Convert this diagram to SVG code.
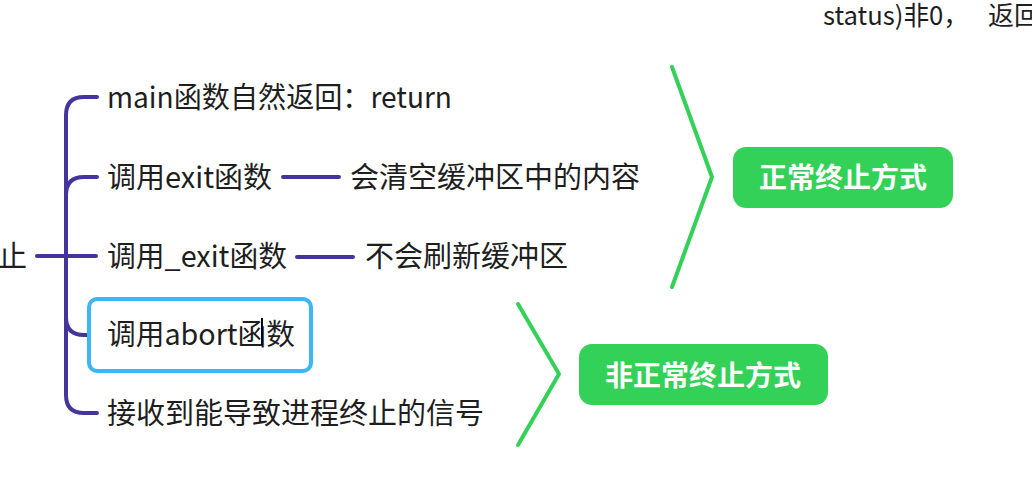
<svg xmlns="http://www.w3.org/2000/svg" width="1032" height="498" viewBox="0 0 1032 498">
<style>
.t{font-family:"Noto Sans CJK SC","Noto Sans",sans-serif;font-size:29px;fill:#1e1e1e}
.top{font-family:"Noto Sans CJK SC","Noto Sans",sans-serif;font-size:26px;fill:#1e1e1e}
.lbl{font-family:"Noto Sans CJK SC",sans-serif;font-size:28px;font-weight:bold;fill:#ffffff}
.c{fill:none;stroke:#45359b;stroke-width:4;stroke-linecap:round}
.g{fill:none;stroke:#33d158;stroke-width:4;stroke-linecap:round;stroke-linejoin:round}
.box{fill:#33d158}
</style>
<rect width="1032" height="498" fill="#ffffff"/>
<text class="top" y="25"><tspan x="823" textLength="146" lengthAdjust="spacingAndGlyphs">status)非0，</tspan><tspan x="988">返回</tspan></text>
<g id="connectors">
<path class="c" d="M37,256 H96"/>
<path class="c" d="M97,97 H84 Q66,97 66,115 V395 Q66,413 84,413 H97"/>
<path class="c" d="M66,195 Q66,177 84,177 H97"/>
<path class="c" d="M66,317 Q66,335 84,335 H90"/>
<path class="c" d="M283,177 H339"/>
<path class="c" d="M297,257 H353"/>
<path class="g" d="M672,67 L712,177 L672,287"/>
<path class="g" d="M518,304 L559,374 L518,445"/>
</g>
<g id="root"><text class="t" x="-2" y="267">止</text></g>
<g id="n-main"><text class="t" x="107" y="108" textLength="345" lengthAdjust="spacingAndGlyphs">main函数自然返回：return</text></g>
<g id="n-exit"><text class="t" x="107" y="188" textLength="165" lengthAdjust="spacingAndGlyphs">调用exit函数</text></g>
<g id="n-exit-desc"><text class="t" x="350" y="188">会清空缓冲区中的内容</text></g>
<g id="n-_exit"><text class="t" x="107" y="267" textLength="180" lengthAdjust="spacingAndGlyphs">调用_exit函数</text></g>
<g id="n-_exit-desc"><text class="t" x="365" y="267">不会刷新缓冲区</text></g>
<g id="n-abort">
<rect x="89" y="299" width="222" height="72" rx="8" fill="#ffffff" stroke="#3cb6f4" stroke-width="4"/>
<text class="t" x="107" y="345" textLength="188" lengthAdjust="spacingAndGlyphs">调用abort函数</text>
<line x1="262" y1="318" x2="262" y2="345" stroke="#000" stroke-width="2"/>
</g>
<g id="n-signal"><text class="t" x="107" y="424">接收到能导致进程终止的信号</text></g>
<g id="n-normal">
<rect class="box" x="733" y="147" width="220" height="61" rx="13"/>
<text class="lbl" x="843" y="188" text-anchor="middle">正常终止方式</text>
</g>
<g id="n-abnormal">
<rect class="box" x="579" y="344" width="249" height="61" rx="13"/>
<text class="lbl" x="703" y="386" text-anchor="middle">非正常终止方式</text>
</g>
</svg>
